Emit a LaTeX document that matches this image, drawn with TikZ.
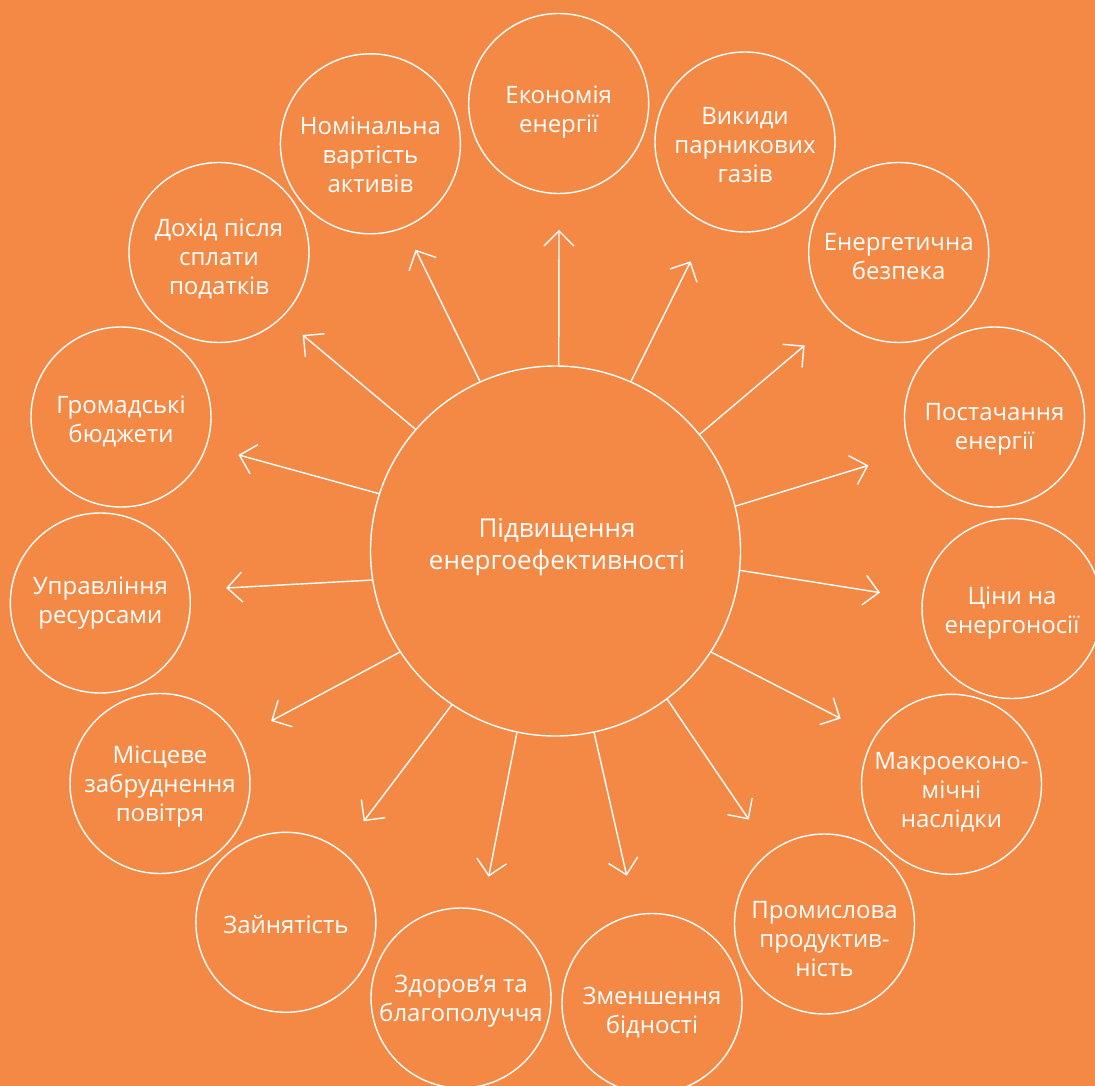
\documentclass[tikz,border=0pt]{standalone}
\usepackage{fontspec}
\setmainfont{Open Sans}
\usetikzlibrary{arrows.meta}
\definecolor{bg}{HTML}{F48845}
\begin{document}
\begin{tikzpicture}[x=1pt,y=-1pt,
  bub/.style={draw=white,line width=1.4pt,circle,minimum size=180pt,inner sep=0pt},
  hub/.style={draw=white,line width=1.4pt,circle,minimum size=370pt,inner sep=0pt},
  lbl/.style={text=white,align=center,font=\fontsize{24}{29}\selectfont,inner sep=0pt},
  hlbl/.style={text=white,align=center,font=\fontsize{26}{32}\selectfont,inner sep=0pt},
  arr/.style={draw=white,line width=1.4pt,-{Straight Barb[length=15pt,width=30pt]}}]
\clip (0,0) rectangle (1095,1086);
\fill[bg] (0,0) rectangle (1095,1086);

% hub
\node[hub] (c) at (555.5,551) {};
\node[hlbl] (tc) at (557,547) {Підвищення\\енергоефективності};

% outer circles
\node[bub] (b1) at (558.7,103.5) {};
\node[bub] (b2) at (745,142) {};
\node[bub] (b3) at (898.7,252.5) {};
\node[bub] (b4) at (994.5,417) {};
\node[bub] (b5) at (1012,608.5) {};
\node[bub] (b6) at (951.5,784.3) {};
\node[bub] (b7) at (824.5,924) {};
\node[bub] (b8) at (652,1003.5) {};
\node[bub] (b9) at (461,998) {};
\node[bub] (b10) at (285.9,922.3) {};
\node[bub] (b11) at (160,783.5) {};
\node[bub] (b12) at (100.3,603) {};
\node[bub] (b13) at (121,417) {};
\node[bub] (b14) at (219,252.5) {};
\node[bub] (b15) at (370.4,143.8) {};

% labels
\node[lbl] (t1) at (558.7,112) {Економія\\енергії};
\node[lbl] (t2) at (745,145) {Викиди\\парникових\\газів};
\node[lbl] (t3) at (898.7,257) {Енергетична\\безпека};
\node[lbl] (t4) at (994.5,429.5) {Постачання\\енергії};
\node[lbl] (t5) at (1012,613.5) {Ціни на\\енергоносії};
\node[lbl] (t6) at (951.5,792) {Макроеконо-\\мічні\\наслідки};
\node[lbl] (t7) at (824.5,939) {Промислова\\продуктив-\\ність};
\node[lbl] (t8) at (652,1013) {Зменшення\\бідності};
\node[lbl] (t9) at (461,1001.5) {Здоров’я та\\благополуччя};
\node[lbl] (t10) at (285.9,925) {Зайнятість};
\node[lbl] (t11) at (160,787) {Місцеве\\забруднення\\повітря};
\node[lbl] (t12) at (100.3,603) {Управління\\ресурсами};
\node[lbl] (t13) at (121,421.5) {Громадські\\бюджети};
\node[lbl] (t14) at (219,258.5) {Дохід після\\сплати\\податків};
\node[lbl] (t15) at (370.4,155) {Номінальна\\вартість\\активів};

% arrow tips
\coordinate (a1) at (559,230);
\coordinate (a2) at (690.6,261.3);
\coordinate (a3) at (804.6,345.5);
\coordinate (a4) at (868.4,465.4);
\coordinate (a5) at (880,592.6);
\coordinate (a6) at (840.7,718.5);
\coordinate (a7) at (748.8,819.5);
\coordinate (a8) at (626.7,875.7);
\coordinate (a9) at (488.6,876.7);
\coordinate (a10) at (363.7,821.3);
\coordinate (a11) at (271.1,721);
\coordinate (a12) at (226.2,588);
\coordinate (a13) at (238.5,454.9);
\coordinate (a14) at (302.7,335);
\coordinate (a15) at (415.6,249.7);

% arrows
\draw[arr] (c.89) -- (a1);
\draw[arr] (c.66.3) -- (a2);
\draw[arr] (c.39.4) -- (a3);
\draw[arr] (c.14.8) -- (a4);
\draw[arr] (c.-6.4) -- (a5);
\draw[arr] (c.-33.1) -- (a6);
\draw[arr] (c.-53.2) -- (a7);
\draw[arr] (c.-78.9) -- (a8);
\draw[arr] (c.258.3) -- (a9);
\draw[arr] (c.236.5) -- (a10);
\draw[arr] (c.213.4) -- (a11);
\draw[arr] (c.189.9) -- (a12);
\draw[arr] (c.162.7) -- (a13);
\draw[arr] (c.139.7) -- (a14);
\draw[arr] (c.114.5) -- (a15);
\end{tikzpicture}
\end{document}
